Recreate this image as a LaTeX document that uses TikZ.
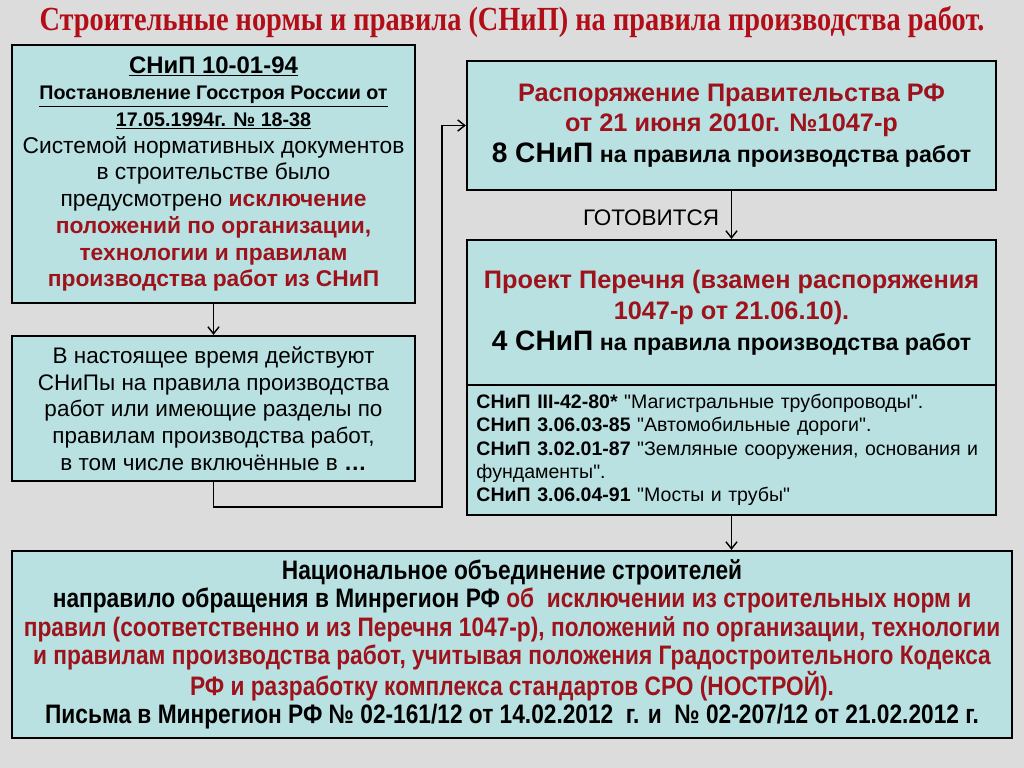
\documentclass[tikz,border=0pt]{standalone}
\usepackage{fontspec}
\setmainfont{Liberation Sans}
\newfontfamily\titlefont[FakeStretch=0.84]{Liberation Serif}
\newfontfamily\narrowfont[FakeStretch=0.85]{Liberation Sans}
\usetikzlibrary{arrows.meta}
\definecolor{bgcol}{RGB}{220,220,220}
\definecolor{boxcol}{RGB}{185,225,226}
\definecolor{darkred}{RGB}{158,18,28}
\definecolor{titlered}{RGB}{178,14,24}
\newcommand{\rd}[1]{\textcolor{darkred}{#1}}
\newcommand{\qt}{\textquotedbl}
\begin{document}
\begin{tikzpicture}[x=0.025cm,y=-0.025cm,
    box/.style={draw,line width=1.6pt,fill=boxcol,align=center,inner sep=0pt},
    link/.style={-{Straight Barb[length=5pt,width=8pt]},line width=1pt}]
  \fill[bgcol] (0,0) rectangle (1024,768);
  \node[text=titlered,font=\titlefont\bfseries\fontsize{24}{28}\selectfont] (title) at (512,22) {Строительные нормы и правила (СНиП) на правила производства работ.};
  \node[box,minimum width=10.075cm,minimum height=6.45cm,font=\fontsize{16.2}{19}\selectfont] (snip) at (213.5,174)
    {{\fontsize{17}{20}\selectfont\bfseries\underline{СНиП 10-01-94}}\\
     {\fontsize{14}{17}\selectfont\bfseries\underline{Постановление Госстроя России от}}\\
     {\fontsize{14}{17}\selectfont\bfseries\underline{17.05.1994г. № 18-38}}\\
     Системой нормативных документов\\
     в строительстве было\\
     предусмотрено \textbf{\rd{исключение}}\\
     \textbf{\rd{положений по организации,}}\\
     \textbf{\rd{технологии и правилам}}\\
     \textbf{\rd{производства работ из СНиП}}};
  \node[box,minimum width=10.075cm,minimum height=3.625cm,font=\fontsize{16}{19}\selectfont] (now) at (213.5,408.5)
    {В настоящее время действуют\\
     СНиПы на правила производства\\
     работ или имеющие разделы по\\
     правилам производства работ,\\
     в том числе включённые в \textbf{…}};
  \node[box,minimum width=13.225cm,minimum height=3.225cm,font=\bfseries\fontsize{16.5}{21.5}\selectfont] (order) at (731.5,125.5)
    {{\fontsize{18}{21.5}\selectfont\rd{Распоряжение Правительства РФ}}\\
     {\fontsize{18}{21.5}\selectfont\rd{от 21 июня 2010г. №1047-р}}\\
     {\fontsize{20}{22}\selectfont 8 СНиП} на правила производства работ};
  \node[box,minimum width=13.225cm,minimum height=3.625cm,font=\bfseries\fontsize{16.5}{22}\selectfont] (draft) at (731.5,312.5)
    {{\fontsize{18}{22}\selectfont\rd{Проект Перечня (взамен распоряжения}}\\
     {\fontsize{18}{22}\selectfont\rd{1047-р от 21.06.10).}}\\
     {\fontsize{20}{22}\selectfont 4 СНиП} на правила производства работ};
  \node[box,minimum width=13.225cm,minimum height=3.25cm,text width=12.75cm,align=left,font=\fontsize{13.9}{16.6}\selectfont] (list) at (731.5,450)
    {\textbf{СНиП III-42-80*} \qt Магистральные трубопроводы\qt.\\
     \textbf{СНиП 3.06.03-85} \qt Автомобильные дороги\qt.\\
     \textbf{СНиП 3.02.01-87} \qt Земляные сооружения, основания и\\
     фундаменты\qt.\\
     \textbf{СНиП 3.06.04-91} \qt Мосты и трубы\qt};
  \node[box,minimum width=25cm,minimum height=4.675cm,font=\narrowfont\bfseries\fontsize{19}{20}\selectfont] (nostroy) at (512,644.5)
    {Национальное объединение строителей\\
     направило обращения в Минрегион РФ \rd{об\ \ исключении из строительных норм и}\\
     \rd{правил (соответственно и из Перечня 1047-р), положений по организации, технологии}\\
     \rd{и правилам производства работ, учитывая положения Градостроительного Кодекса}\\
     \rd{РФ и разработку комплекса стандартов СРО (НОСТРОЙ).}\\
     Письма в Минрегион РФ № 02-161/12 от 14.02.2012\ \ г. и\ \ № 02-207/12 от 21.02.2012 г.};
  \coordinate (bend) at (442,507);
  \draw[link] (snip.south) -- (now.north);
  \draw[link] (now.south) |- (bend) |- (order.west);
  \draw[link] (order.south) -- node[pos=0.55,left=5pt,font=\fontsize{16}{18}\selectfont] (prep) {ГОТОВИТСЯ} (draft.north);
  \draw[link] (list.south) -- (list.south |- nostroy.north);
\end{tikzpicture}
\end{document}
